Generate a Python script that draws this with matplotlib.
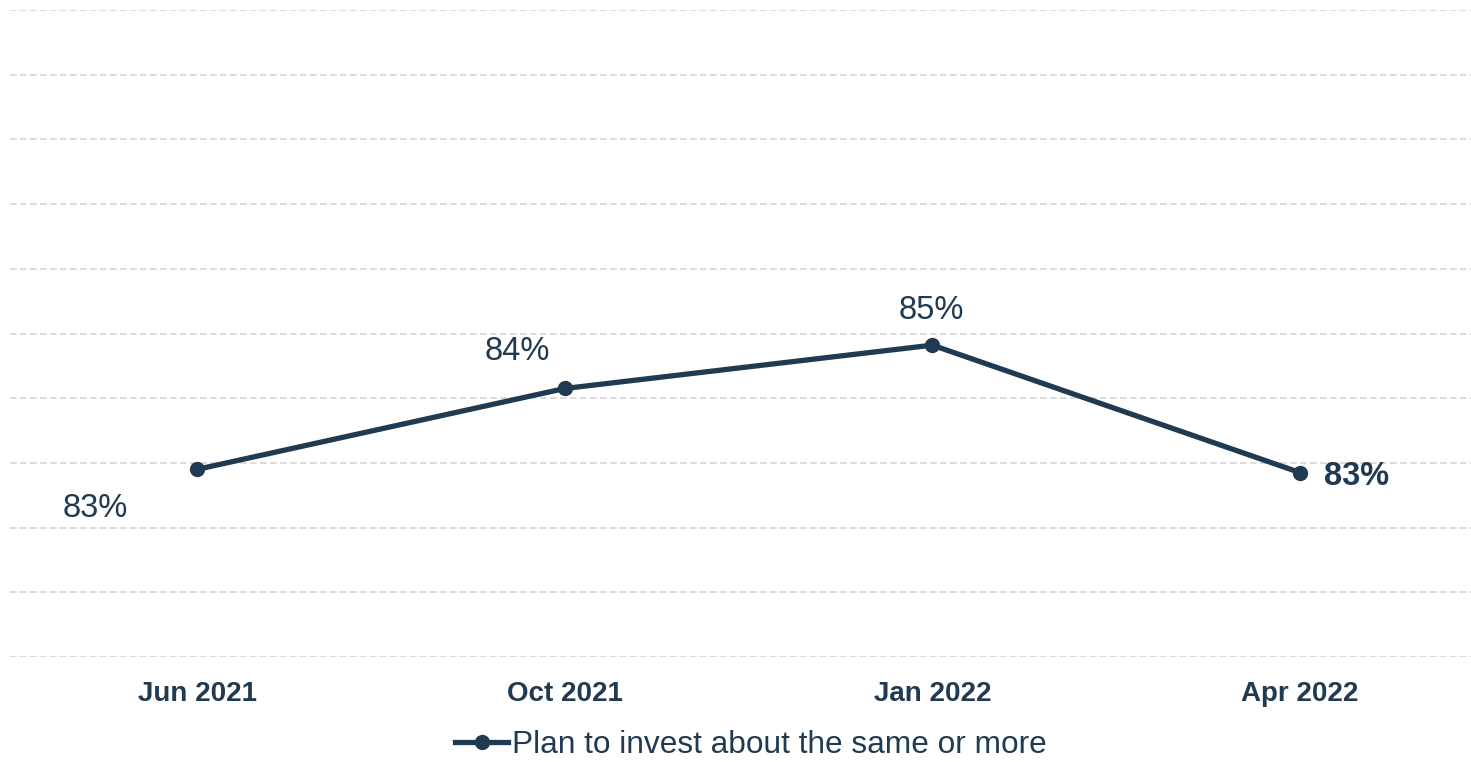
import matplotlib
matplotlib.use("Agg")
import matplotlib.pyplot as plt
from matplotlib.lines import Line2D

plt.rcParams["font.family"] = ["Liberation Sans", "DejaVu Sans"]

# survey waves and share planning to invest the same or more (%)
periods = ["Jun 2021", "Oct 2021", "Jan 2022", "Apr 2022"]
share = [82.9, 84.15, 84.82, 82.85]
series_name = "Plan to invest about the same or more"

NAVY = "#1f3a51"
GRID = "#d6d6d6"

fig = plt.figure(figsize=(14.71, 7.62), dpi=100)
ax = fig.add_axes([10 / 1471, 1 - 657 / 762, 1 - 10 / 1471, (657 - 10) / 762])

xs = list(range(len(periods)))
ax.plot(xs, share, color=NAVY, lw=3.8, marker="o", ms=10, zorder=3,
        solid_capstyle="round")

ax.set_xlim(-0.509, 3.465)
ax.set_ylim(80, 90)
ax.set_yticks(range(80, 91))
ax.yaxis.grid(True, color=GRID, ls=(0, (4, 2)), lw=1.2)
ax.set_axisbelow(True)
ax.tick_params(axis="y", left=False, labelleft=False)
ax.tick_params(axis="x", bottom=False, pad=14)
ax.set_xticks(xs)
ax.set_xticklabels(periods, fontsize=20, fontweight="bold", color=NAVY)
for s in ax.spines.values():
    s.set_visible(False)

# value labels placed around each point
offsets = [(-73, -28, "center", "center", "normal"),
           (-34, 26.6, "center", "center", "normal"),
           (-1, 25, "center", "center", "normal"),
           (17, -3, "left", "center", "bold")]
for x, v, (dx, dy, ha, va, fw) in zip(xs, share, offsets):
    ax.annotate(f"{v:.0f}%", (x, v), xytext=(dx, dy), textcoords="offset points",
                ha=ha, va=va, fontsize=23.5, color=NAVY, fontweight=fw)

handle = Line2D([], [], color=NAVY, lw=3.8, marker="o", ms=10)
fig.legend([handle], [series_name], loc="center",
           bbox_to_anchor=(0.5 + 15 / 1471, 1 - 745 / 762),
           frameon=False, fontsize=22.8, labelcolor=NAVY, handlelength=1.7,
           handletextpad=0.1)

fig.savefig("out.png", dpi=100)
